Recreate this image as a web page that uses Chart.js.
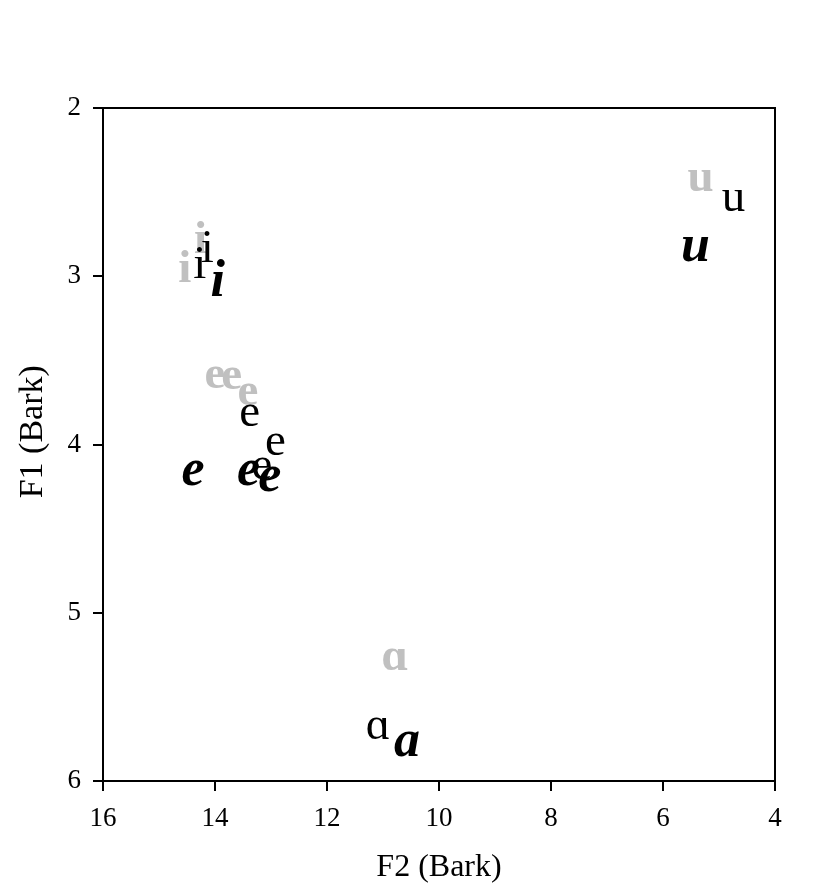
<!DOCTYPE html>
<html><head><meta charset="utf-8">
<script src="https://cdn.jsdelivr.net/npm/chart.js@4.4.0/dist/chart.umd.min.js"></script>
<style>html,body{margin:0;padding:0;background:#fff;} #wrap{width:813px;height:892px;}</style>
</head><body><div id="wrap"><canvas id="c" width="813" height="892"></canvas></div>
<script>
// Tick values
const xTicks = [16, 14, 12, 10, 8, 6, 4];
const yTicks = [2, 3, 4, 5, 6];

// Grey (bold) vowel labels
const greyLabels = ['i', 'i', 'e', 'e', 'e', 'u', 'ɑ'];
const greyF2 = [14.26, 14.54, 14.00, 13.70, 13.41, 5.33, 10.79];
const greyF1 = [2.80, 2.97, 3.60, 3.61, 3.70, 2.43, 5.275];

// Black (regular) vowel labels
const blackLabels = ['i', 'i', 'e', 'e', 'e', 'u', 'ɑ'];
const blackF2 = [14.14, 14.27, 13.38, 12.92, 13.16, 4.74, 11.09];
const blackF1 = [2.85, 2.945, 3.825, 4.00, 4.14, 2.55, 5.69];

// Black bold italic vowel labels
const italLabels = ['i', 'e', 'e', 'e', 'u', 'a'];
const italF2 = [13.95, 14.39, 13.40, 13.02, 5.42, 10.57];
const italF1 = [3.05, 4.17, 4.17, 4.21, 2.84, 5.78];

const FONT = "'Liberation Serif', 'Times New Roman', serif";

function pts(xs, ys) { return xs.map((x, i) => ({x: x, y: ys[i]})); }

const textPlugin = {
  id: 'vowelText',
  afterDatasetsDraw(chart) {
    const ctx = chart.ctx;
    chart.data.datasets.forEach((ds, i) => {
      const meta = chart.getDatasetMeta(i);
      ctx.save();
      ctx.font = ds.textFont;
      ctx.fillStyle = ds.textColor;
      ctx.textAlign = 'center';
      ctx.textBaseline = 'alphabetic';
      meta.data.forEach((el, j) => {
        ctx.fillText(ds.labels[j], el.x, el.y + ds.textSize * 0.224);
      });
      ctx.restore();
    });
  }
};

const boxPlugin = {
  id: 'box',
  afterDraw(chart) {
    const a = chart.chartArea, ctx = chart.ctx;
    ctx.save();
    ctx.strokeStyle = '#000';
    ctx.lineWidth = 2;
    ctx.strokeRect(a.left, a.top, a.right - a.left, a.bottom - a.top);
    ctx.restore();
  }
};

new Chart(document.getElementById('c'), {
  type: 'scatter',
  data: {
    datasets: [
      {data: pts(greyF2, greyF1), labels: greyLabels, textFont: 'bold 47px ' + FONT, textSize: 47, textColor: '#c0c0c0', pointRadius: 0},
      {data: pts(blackF2, blackF1), labels: blackLabels, textFont: '47px ' + FONT, textSize: 47, textColor: '#000', pointRadius: 0},
      {data: pts(italF2, italF1), labels: italLabels, textFont: 'italic bold 52px ' + FONT, textSize: 52, textColor: '#000', pointRadius: 0}
    ]
  },
  options: {
    responsive: false,
    animation: false,
    devicePixelRatio: 1,
    layout: {padding: {left: 0, right: 38, top: 108, bottom: 0}},
    plugins: {legend: {display: false}, tooltip: {enabled: false}},
    scales: {
      x: {
        type: 'linear', position: 'bottom', reverse: true, min: 4, max: 16,
        afterBuildTicks: s => { s.ticks = xTicks.map(v => ({value: v})); },
        afterFit: s => { s.height = 111; },
        ticks: {font: {family: FONT, size: 27}, color: '#000', padding: 12, maxRotation: 0},
        grid: {display: true, drawOnChartArea: false, drawTicks: true, tickLength: 10, color: '#000', lineWidth: 2},
        border: {display: true, color: '#000', width: 2},
        title: {display: true, text: 'F2 (Bark)', font: {family: FONT, size: 32}, color: '#000', padding: {top: 0, bottom: 5}}
      },
      y: {
        type: 'linear', position: 'left', reverse: true, min: 2, max: 6,
        afterBuildTicks: s => { s.ticks = yTicks.map(v => ({value: v})); },
        afterFit: s => { s.width = 103; },
        ticks: {font: {family: FONT, size: 27}, color: '#000', padding: 12},
        grid: {display: true, drawOnChartArea: false, drawTicks: true, tickLength: 10, color: '#000', lineWidth: 2},
        border: {display: true, color: '#000', width: 2},
        title: {display: true, text: '   F1 (Bark)', font: {family: FONT, size: 34}, color: '#000', padding: {top: 13, bottom: 0}}
      }
    }
  },
  plugins: [textPlugin, boxPlugin]
});
</script>
</body></html>
